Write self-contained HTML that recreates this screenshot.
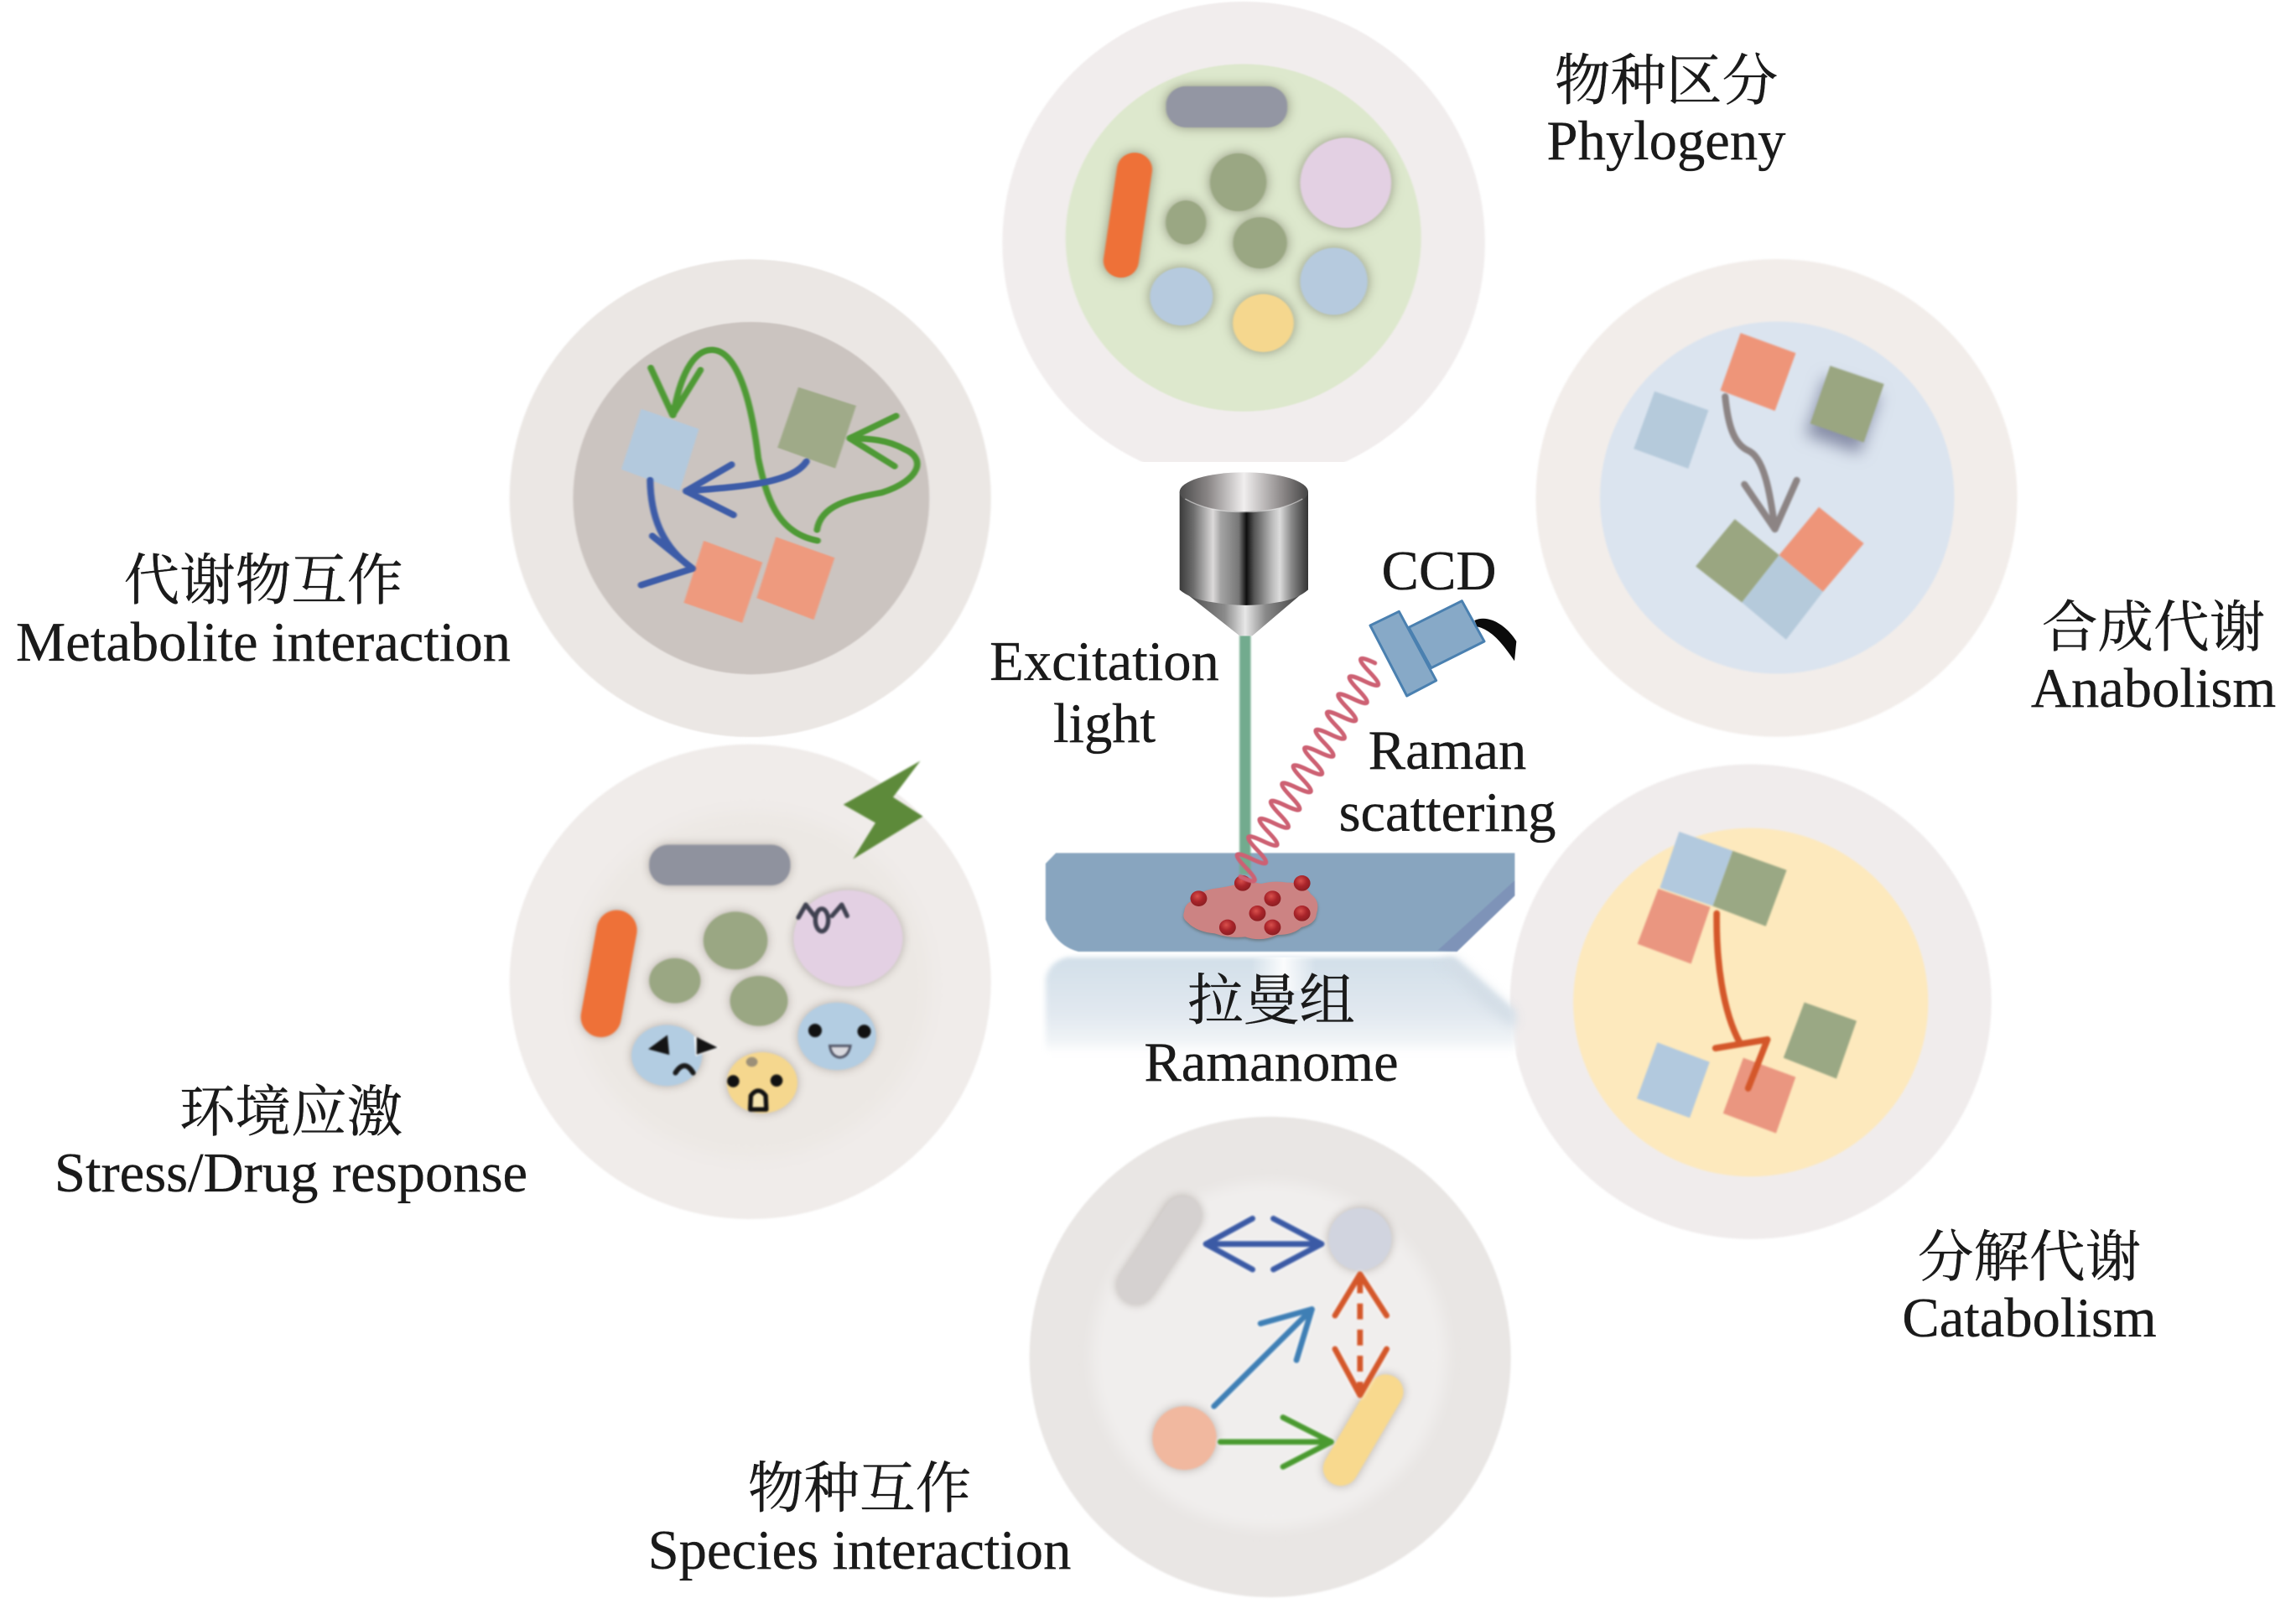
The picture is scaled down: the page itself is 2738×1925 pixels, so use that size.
<!DOCTYPE html>
<html lang="zh">
<head>
<meta charset="utf-8">
<title>Ramanome</title>
<style>
html,body{margin:0;padding:0;background:#fff;}
svg{display:block;}
text{font-family:"Liberation Serif","Noto Serif CJK SC",serif;font-size:66.6px;fill:#1a1a1a;stroke:#1a1a1a;stroke-width:.35px;text-anchor:middle;}
.sh{filter:drop-shadow(0 0 18px rgba(90,90,70,.6));}
.sm{filter:drop-shadow(0 0 14px rgba(110,100,90,.45));}
.line{fill:none;stroke-linecap:round;stroke-linejoin:round;}
.soft{filter:blur(2.5px);}
.halo{filter:drop-shadow(0 0 6px rgba(255,255,255,.95));}
</style>
</head>
<body>
<svg width="2738" height="1925" viewBox="0 0 2738 1925" xmlns="http://www.w3.org/2000/svg">
<defs>
<linearGradient id="metal" gradientUnits="userSpaceOnUse" x1="80" x2="540" y1="0" y2="0">
<stop offset="0" stop-color="#3a3a3a"/><stop offset=".11" stop-color="#6e6e6e"/><stop offset=".26" stop-color="#dcdada"/><stop offset=".32" stop-color="#a4a4a4"/><stop offset=".46" stop-color="#777"/><stop offset=".52" stop-color="#0e0e0e"/><stop offset=".58" stop-color="#555"/><stop offset=".72" stop-color="#bbb"/><stop offset=".78" stop-color="#dcdcdc"/><stop offset=".87" stop-color="#888"/><stop offset="1" stop-color="#333"/>
</linearGradient>
<linearGradient id="metal2" gradientUnits="userSpaceOnUse" x1="80" x2="540" y1="0" y2="0">
<stop offset="0" stop-color="#4a4a4a"/><stop offset=".22" stop-color="#8a8686"/><stop offset=".5" stop-color="#f0eeee"/><stop offset=".8" stop-color="#8c8888"/><stop offset="1" stop-color="#444"/>
</linearGradient>
<linearGradient id="cone" gradientUnits="userSpaceOnUse" x1="130" x2="500" y1="0" y2="0">
<stop offset="0" stop-color="#555"/><stop offset=".3" stop-color="#8a8a8a"/><stop offset=".5" stop-color="#e8e8e8"/><stop offset=".7" stop-color="#888"/><stop offset="1" stop-color="#4a4a4a"/>
</linearGradient>
<linearGradient id="refl" x1="0" x2="0" y1="0" y2="1">
<stop offset="0" stop-color="#d2dfe9"/><stop offset=".6" stop-color="#e2e9f0"/><stop offset=".85" stop-color="#eff3f6"/><stop offset="1" stop-color="#ffffff"/>
</linearGradient>
<linearGradient id="reflmid" x1="0" x2="1" y1="0" y2="0">
<stop offset="0" stop-color="#fff" stop-opacity="0"/><stop offset=".5" stop-color="#fff" stop-opacity=".9"/><stop offset="1" stop-color="#fff" stop-opacity="0"/>
</linearGradient>
<radialGradient id="dot" cx=".42" cy=".35" r=".65">
<stop offset="0" stop-color="#d9504c"/><stop offset=".55" stop-color="#a9242a"/><stop offset="1" stop-color="#8c1e22"/>
</radialGradient>
</defs>

<!-- Phylogeny -->
<g transform="translate(1180,0) scale(.3827,.3635)">
<g class="soft">
<ellipse cx="792" cy="797" rx="752" ry="792" fill="#f1eded"/>
<ellipse cx="791" cy="780" rx="554" ry="570" fill="#dde8cd"/>
<g class="sh">
<rect x="550" y="283" width="378" height="135" rx="62" fill="#9396a3"/>
<line x1="452" y1="556" x2="410" y2="856" stroke="#ee7138" stroke-width="110" stroke-linecap="round"/>
<ellipse cx="775" cy="598" rx="88" ry="95" fill="#9aa783"/>
<ellipse cx="612" cy="730" rx="63" ry="72" fill="#9aa783"/>
<ellipse cx="843" cy="797" rx="84" ry="84" fill="#9aa783"/>
<ellipse cx="1110" cy="600" rx="142" ry="148" fill="#e3d0e3"/>
<ellipse cx="598" cy="973" rx="98" ry="95" fill="#b6cade"/>
<ellipse cx="1073" cy="923" rx="105" ry="110" fill="#b6cade"/>
<ellipse cx="853" cy="1060" rx="95" ry="95" fill="#f5d78e"/>
</g>
</g>
</g>

<!-- white mask below phylogeny -->
<rect x="1240" y="551" width="570" height="780" rx="30" fill="#fff"/>

<!-- Metabolite interaction -->
<g transform="translate(600,310) scale(.3827,.37)">
<g class="soft">
<ellipse cx="770" cy="768" rx="750" ry="770" fill="#ebe7e4"/>
<ellipse cx="773" cy="768" rx="555" ry="568" fill="#cbc4c0"/>
<polygon points="430,480 610,545 550,745 368,675" fill="#b3c9dd"/>
<polygon points="920,410 1100,470 1035,672 855,605" fill="#9faa88"/>
<polygon points="625,905 808,975 745,1170 563,1105" fill="#ee9a7e"/>
<polygon points="850,893 1033,960 968,1160 790,1090" fill="#ee9a7e"/>
<g class="line" stroke="#4e9a35" stroke-width="20">
<path d="M980 905C850 880 820 760 795 640C770 420 720 290 650 290C590 290 550 380 530 500"/>
<path d="M460 348L528 500L615 355"/>
<path d="M978 870C990 790 1080 770 1180 750C1300 710 1320 640 1250 610C1200 580 1140 575 1080 575"/>
<path d="M1225 503L1080 575L1220 665"/>
</g>
<g class="line" stroke="#3d5ca8" stroke-width="21">
<path d="M945 650C900 720 750 730 570 745"/>
<path d="M712 660L570 745L718 822"/>
<path d="M458 710C460 820 490 920 590 995"/>
<path d="M465 890L590 995L430 1048"/>
</g>
</g>
</g>

<!-- Anabolism -->
<g transform="translate(1820,300) scale(.3827,.3763)">
<g class="soft">
<ellipse cx="780" cy="781" rx="750" ry="757" fill="#f2edea"/>
<ellipse cx="782" cy="780" rx="552" ry="558" fill="#dbe4ef"/>
<polygon points="400,443 568,503 505,688 335,625" fill="#b5cadb"/>
<polygon points="947,362 1115,420 1052,605 885,545" fill="#9aa681" style="filter:drop-shadow(-14px 36px 24px rgba(80,85,120,.6))"/>
<polygon points="668,258 840,322 775,505 605,440" fill="#ee9579"/>
<polygon points="650,848 788,962 672,1112 528,998" fill="#9aa681"/>
<polygon points="788,962 925,1078 810,1230 672,1112" fill="#b5cadb"/>
<polygon points="912,810 1052,925 925,1078 788,962" fill="#ee9579"/>
<g class="line" stroke="#8c8484" stroke-width="21">
<path d="M620 460C630 560 650 610 690 630C740 650 760 760 775 880"/>
<path d="M680 738L775 880L843 725"/>
</g>
</g>
</g>

<!-- Stress -->
<g transform="translate(600,880) scale(.3827,.3827)">
<g class="soft">
<ellipse cx="770" cy="760" rx="750" ry="740" fill="#f0ecea"/>
<ellipse cx="775" cy="770" rx="555" ry="540" fill="#ece8e4" style="filter:blur(20px)"/>
<g class="sm">
<rect x="455" y="333" width="440" height="127" rx="60" fill="#8f929e"/>
<line x1="354" y1="600" x2="305" y2="870" stroke="#ee7138" stroke-width="126" stroke-linecap="round"/>
<ellipse cx="724" cy="632" rx="100" ry="90" fill="#9aa783"/>
<ellipse cx="535" cy="757" rx="80" ry="70" fill="#9aa783"/>
<ellipse cx="797" cy="820" rx="90" ry="78" fill="#9aa783"/>
<ellipse cx="1075" cy="625" rx="170" ry="150" fill="#e3d0e3"/>
<ellipse cx="510" cy="990" rx="110" ry="95" fill="#b3cde2"/>
<ellipse cx="1040" cy="930" rx="122" ry="105" fill="#b3cde2"/>
<ellipse cx="807" cy="1075" rx="110" ry="95" fill="#f5d78e"/>
</g>
<polygon points="1300,72 1215,185 1308,245 1090,378 1160,265 1060,208" fill="#5d8a3a"/>
<g class="line" stroke="#3f4150" stroke-width="14">
<path d="M920 560L943 520L972 558"/>
<ellipse cx="993" cy="568" rx="20" ry="35"/>
<path d="M1025 555L1055 520L1072 555"/>
</g>
<polygon points="595,930 675,965 600,992" fill="#fff"/>
<polygon points="452,970 512,926 518,988" fill="#141414"/>
<polygon points="603,933 668,965 603,987" fill="#141414"/>
<path class="line" d="M537 1044Q565 1000 592 1044" stroke="#1a1a1a" stroke-width="16"/>
<circle cx="972" cy="912" r="21" fill="#111"/>
<circle cx="1125" cy="915" r="21" fill="#111"/>
<path d="M1018 960L1082 960Q1075 995 1048 996Q1022 992 1018 960Z" fill="#d9d9df" stroke="#55596a" stroke-width="8"/>
<circle cx="717" cy="1070" r="19" fill="#111"/>
<circle cx="852" cy="1068" r="19" fill="#111"/>
<path d="M770 1158L772 1115Q795 1085 818 1115L820 1158Z" fill="#f5e4b0" stroke="#111" stroke-width="14" stroke-linejoin="round"/>
<ellipse cx="775" cy="1010" rx="18" ry="15" fill="#9c9078"/>
</g>
</g>

<!-- Catabolism -->
<g transform="translate(1790,900) scale(.3827,.3827)">
<g class="soft">
<ellipse cx="778" cy="770" rx="750" ry="740" fill="#f0ecec"/>
<ellipse cx="778" cy="772" rx="553" ry="543" fill="#fde9bd"/>
<polygon points="490,418 652,475 592,652 425,590" fill="#ea9680"/>
<polygon points="555,240 722,300 660,472 495,415" fill="#b2c9de"/>
<polygon points="722,300 890,360 825,535 660,472" fill="#9aa884"/>
<polygon points="945,772 1108,830 1045,1010 880,945" fill="#9aa884"/>
<polygon points="487,897 650,958 588,1132 423,1072" fill="#b2c9de"/>
<polygon points="755,945 918,1005 857,1180 692,1118" fill="#ea9680"/>
<g class="line" stroke="#d4572a" stroke-width="20">
<path d="M672 495C670 640 690 800 745 900"/>
<path d="M668 915L830 888L770 1040"/>
</g>
</g>
</g>

<!-- Species interaction -->
<g transform="translate(1220,1330) scale(.3827,.3795)">
<g class="soft">
<ellipse cx="770" cy="760" rx="750" ry="755" fill="#e9e6e4"/>
<ellipse cx="768" cy="755" rx="553" ry="545" fill="#f0eeed" style="filter:blur(22px)"/>
<line x1="497" y1="315" x2="352" y2="535" stroke="#d5d1d0" stroke-width="118" stroke-linecap="round" class="sm"/>
<circle cx="1050" cy="390" r="98" fill="#d1d4df" class="sm"/>
<circle cx="503" cy="1015" r="100" fill="#f1b89f" class="sm"/>
<line x1="1130" y1="870" x2="990" y2="1110" stroke="#f8d98e" stroke-width="110" stroke-linecap="round" class="sm"/>
<g class="line halo" stroke="#3b5aa5" stroke-width="18">
<path d="M570 405L930 405"/><path d="M715 325L570 405L715 485"/><path d="M780 325L930 405L780 485"/>
</g>
<g class="line halo" stroke="#3f7fb5" stroke-width="18">
<path d="M595 915L900 610"/><path d="M740 655L900 610L852 770"/>
</g>
<g class="line halo" stroke="#d4572a" stroke-width="18">
<path d="M1050 510L1050 875" stroke-dasharray="50 32" stroke-linecap="butt"/>
<path d="M972 630L1050 500L1133 630"/><path d="M972 735L1050 880L1133 735"/>
</g>
<g class="line halo" stroke="#4a9a30" stroke-width="18">
<path d="M615 1027L960 1027"/><path d="M810 950L960 1027L810 1105"/>
</g>
</g>
</g>

<!-- Central figure: slide, reflection, tissue (crop coords) -->
<g transform="translate(1240,1000) scale(.3827,.3333)">
<path d="M85 425L1290 425L1480 620L1480 770L18 770L18 500Q30 440 85 425Z" fill="url(#refl)" style="filter:blur(8px)"/>
<polygon points="1290,425 1480,620 1480,680 1380,590 1250,440" fill="#d3dde6" style="filter:blur(18px)"/>
<rect x="660" y="425" width="200" height="120" fill="url(#reflmid)"/>
<g style="filter:blur(2px)">
<path d="M50 52L1480 52L1480 150L1300 405L120 405Q50 385 18 290L18 90Z" fill="#88a5bf"/>
<polygon points="1480,150 1240,400 1300,405 1480,205" fill="#7e93b8"/>
</g>
</g>

<g transform="translate(1150,520) scale(.4783,.5102)">
<rect x="686" y="465" width="28" height="560" fill="#72ab8e" style="filter:blur(2.5px)"/>
</g>

<g transform="translate(1240,1000) scale(.3827,.3333)">
<path d="M450 262Q452 232 478 222Q492 190 540 180Q575 175 600 168Q640 150 690 162Q730 150 770 158Q820 155 845 200Q875 225 862 270Q860 305 815 318Q790 345 740 345Q690 372 640 352Q590 358 545 340Q490 335 460 300Q442 285 450 262Z" fill="#cc8383" style="filter:drop-shadow(0 6px 5px rgba(70,70,60,.45))"/>
<g fill="url(#dot)">
<ellipse cx="495" cy="215" rx="26" ry="28"/><ellipse cx="632" cy="160" rx="26" ry="28"/><ellipse cx="725" cy="215" rx="26" ry="28"/><ellipse cx="817" cy="160" rx="26" ry="28"/><ellipse cx="678" cy="268" rx="26" ry="28"/><ellipse cx="817" cy="268" rx="26" ry="28"/><ellipse cx="585" cy="318" rx="26" ry="28"/><ellipse cx="725" cy="318" rx="26" ry="28"/>
</g>
</g>

<g transform="translate(1150,520) scale(.4783,.5102)">
<path class="line" stroke="#cd6173" stroke-width="10" style="filter:blur(1.2px)" d="M688 1030q65 29 14 -20.8t14 -20.8t14 -20.8t14 -20.8t14 -20.8t14 -20.8t14 -20.8t14 -20.8t14 -20.8t14 -20.8t14 -20.8t14 -20.8t14 -20.8t14 -20.8t14 -20.8t14 -20.8t14 -20.8t14 -20.8t14 -20.8t14 -20.8t14 -20.8t14 -20.8t14 -20.8t14 -20.8"/>
</g>

<!-- Objective and CCD (true 3x crop coords) -->
<g transform="translate(1380,540) scale(.33333)">
<polygon points="80,485 540,485 340,655 295,655" fill="url(#cone)"/>
<path d="M80 140L540 140L540 490Q500 525 430 535Q320 556 200 535Q120 525 80 490Z" fill="url(#metal)"/>
<ellipse cx="310" cy="140" rx="230" ry="70" fill="url(#metal2)"/>
<path d="M100 165Q180 212 310 212Q440 212 520 165" fill="none" stroke="#f2f2f2" stroke-width="4" opacity=".55"/>
<polygon points="900,625 1090,530 1170,675 980,770" fill="#87a9c7" stroke="#4a80b0" stroke-width="9" stroke-linejoin="round"/>
<polygon points="762,618 865,568 998,815 893,870" fill="#87a9c7" stroke="#4a80b0" stroke-width="9" stroke-linejoin="round"/>
<path d="M1135 600C1190 575 1255 625 1285 675L1278 745C1240 690 1200 635 1145 622Z" fill="#0b0b0b"/>
</g>

<!-- Labels -->
<text x="1987" y="119">物种区分</text>
<text x="1987" y="190">Phylogeny</text>
<text x="314" y="715">代谢物互作</text>
<text x="314" y="788">Metabolite interaction</text>
<text x="2568" y="771">合成代谢</text>
<text x="2568" y="843">Anabolism</text>
<text x="347" y="1349">环境应激</text>
<text x="347" y="1421">Stress/Drug response</text>
<text x="2420" y="1522">分解代谢</text>
<text x="2420" y="1594">Catabolism</text>
<text x="1025" y="1798">物种互作</text>
<text x="1025" y="1871">Species interaction</text>
<text x="1516" y="1216">拉曼组</text>
<text x="1516" y="1289">Ramanome</text>
<text x="1317" y="811">Excitation</text>
<text x="1317" y="885">light</text>
<text x="1716" y="703">CCD</text>
<text x="1726" y="917">Raman</text>
<text x="1726" y="991">scattering</text>
</svg>
</body>
</html>
